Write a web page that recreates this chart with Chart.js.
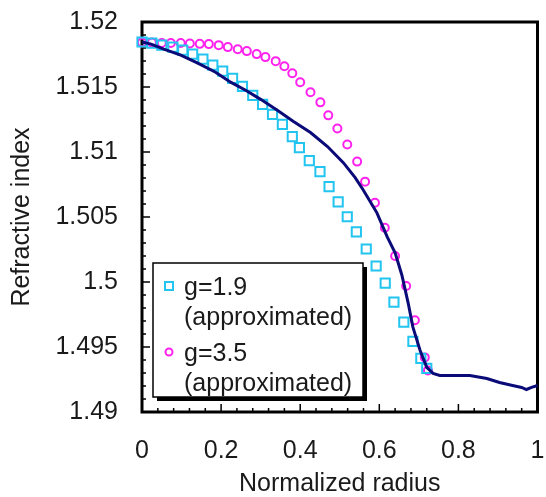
<!DOCTYPE html>
<html>
<head>
<meta charset="utf-8">
<script src="https://cdn.jsdelivr.net/npm/chart.js@4.4.1/dist/chart.umd.min.js"></script>
<style>
  body { margin: 0; background: #fff; }
  #chart { display: block; }
</style>
</head>
<body>
<canvas id="chart" width="546" height="497"></canvas>
<script>
// measured profile (solid navy line)
const radiusMeasured = [0, 0.023, 0.055, 0.098, 0.141, 0.186, 0.224, 0.262, 0.300, 0.343, 0.383, 0.426,
    0.469, 0.509, 0.539, 0.559, 0.594, 0.620, 0.640, 0.657, 0.673, 0.685, 0.703, 0.720, 0.736, 0.753,
    0.829, 0.872, 0.904, 0.937, 0.960, 0.972, 0.985, 1.0];
const indexMeasured = [1.51846, 1.5183, 1.51791, 1.51745, 1.51683, 1.51614, 1.51537, 1.51475, 1.51405,
    1.5132, 1.51235, 1.5115, 1.51042, 1.50918, 1.50803, 1.5071, 1.50532, 1.50347, 1.50224, 1.50054,
    1.49838, 1.49653, 1.49475, 1.49343, 1.49297, 1.49281, 1.49281, 1.49258, 1.49227, 1.49204, 1.49189,
    1.49173, 1.49189, 1.49204];

// g=1.9 (squares)
const radiusG19 = [0, 0.025, 0.05, 0.078, 0.103, 0.128, 0.154, 0.179, 0.204, 0.229, 0.254, 0.280, 0.305,
    0.330, 0.355, 0.380, 0.398, 0.423, 0.450, 0.473, 0.496, 0.519, 0.542, 0.567, 0.592, 0.615, 0.637,
    0.662, 0.685, 0.705, 0.720];
const indexG19 = [1.51846, 1.51838, 1.51822, 1.51807, 1.51784, 1.51753, 1.51714, 1.51668, 1.51622,
    1.51567, 1.51505, 1.51436, 1.51367, 1.51289, 1.51212, 1.51119, 1.51034, 1.50934, 1.50849, 1.50733,
    1.50617, 1.50502, 1.50386, 1.50254, 1.50123, 1.49992, 1.49845, 1.49691, 1.49544, 1.49413, 1.49336];

// g=3.5 (circles)
const radiusG35 = [0, 0.025, 0.05, 0.073, 0.098, 0.121, 0.146, 0.169, 0.194, 0.217, 0.242, 0.265, 0.290,
    0.312, 0.338, 0.360, 0.380, 0.400, 0.426, 0.451, 0.471, 0.494, 0.519, 0.544, 0.564, 0.589, 0.614,
    0.640, 0.668, 0.690, 0.715, 0.723];
const indexG35 = [1.51843, 1.51843, 1.51838, 1.51838, 1.51838, 1.51835, 1.51832, 1.5183, 1.51822,
    1.51807, 1.51791, 1.51776, 1.51753, 1.5173, 1.51699, 1.5166, 1.51606, 1.51537, 1.51459, 1.51382,
    1.51282, 1.51181, 1.51058, 1.50926, 1.50772, 1.5061, 1.50417, 1.502, 1.49969, 1.49706, 1.4942, 1.4932];

const xTicks = [0, 0.2, 0.4, 0.6, 0.8, 1];
const yTicks = [1.49, 1.495, 1.5, 1.505, 1.51, 1.515, 1.52];
const legendLabels = ['g=1.9\n(approximated)', 'g=3.5\n(approximated)'];

const pts = (xs, ys) => xs.map((x, i) => ({ x: x, y: ys[i] }));
const FONT = 'Liberation Sans, Arial, sans-serif';
const TXT = '#1a1a1a';

// frame + inward tick marks
const framePlugin = {
    id: 'frame',
    beforeDatasetsDraw(chart) {
        const { ctx, chartArea: a, scales } = chart;
        ctx.save();
        ctx.strokeStyle = '#000';
        ctx.lineWidth = 1.5;
        ctx.beginPath();
        // y ticks (minor every 0.001)
        for (let i = 0; i <= 30; i++) {
            const y = scales.y.getPixelForValue(1.49 + i * 0.001);
            const len = i % 5 === 0 ? 8 : 4;
            ctx.moveTo(a.left, y); ctx.lineTo(a.left + len, y);
        }
        // x ticks (minor every 0.04)
        for (let i = 0; i <= 25; i++) {
            const x = scales.x.getPixelForValue(i * 0.04);
            const len = i % 5 === 0 ? 8 : 4;
            ctx.moveTo(x, a.bottom); ctx.lineTo(x, a.bottom - len);
        }
        ctx.stroke();
        ctx.lineWidth = 3;
        ctx.strokeRect(a.left, a.top, a.right - a.left, a.bottom - a.top);
        ctx.restore();
    }
};

// boxed legend with shadow, two lines per entry
const legendPlugin = {
    id: 'boxLegend',
    afterDraw(chart) {
        const ctx = chart.ctx;
        const bx = 153, by = 263, bw = 210, bh = 134;
        ctx.save();
        ctx.fillStyle = '#000';
        ctx.fillRect(bx + 4, by + 4, bw, bh);
        ctx.fillStyle = '#fff';
        ctx.fillRect(bx, by, bw, bh);
        ctx.strokeStyle = '#000';
        ctx.lineWidth = 1.5;
        ctx.strokeRect(bx, by, bw, bh);
        ctx.font = '25px ' + FONT;
        ctx.fillStyle = TXT;
        ctx.textBaseline = 'middle';
        const sets = [chart.data.datasets[1], chart.data.datasets[2]];
        sets.forEach((ds, k) => {
            const cy = by + 23 + k * 66;
            ctx.strokeStyle = ds.borderColor;
            ctx.lineWidth = 2;
            if (ds.pointStyle === 'rect') {
                ctx.strokeRect(bx + 12, cy - 4, 8, 8);
            } else {
                ctx.beginPath();
                ctx.arc(bx + 16, cy, 3.5, 0, Math.PI * 2);
                ctx.stroke();
            }
            const lines = legendLabels[k].split('\n');
            ctx.fillStyle = TXT;
            lines.forEach((t, j) => ctx.fillText(t, bx + 31, cy + 2 + j * 30));
        });
        ctx.restore();
    }
};

new Chart(document.getElementById('chart'), {
    type: 'scatter',
    data: {
        datasets: [
            {
                label: 'measured',
                data: pts(radiusMeasured, indexMeasured),
                showLine: true,
                borderColor: '#0a0a78',
                borderWidth: 3,
                pointRadius: 0,
                tension: 0,
                clip: false
            },
            {
                label: legendLabels[0],
                data: pts(radiusG19, indexG19),
                pointStyle: 'rect',
                pointRadius: 6.5,
                borderColor: '#22c4f0',
                backgroundColor: 'rgba(0,0,0,0)',
                borderWidth: 2,
                clip: false
            },
            {
                label: legendLabels[1],
                data: pts(radiusG35, indexG35),
                pointStyle: 'circle',
                pointRadius: 4,
                borderColor: '#ff22ee',
                backgroundColor: 'rgba(0,0,0,0)',
                borderWidth: 2,
                clip: false
            }
        ]
    },
    options: {
        responsive: false,
        animation: false,
        layout: { padding: { top: 22, right: 6, left: 0, bottom: 0 } },
        plugins: { legend: { display: false }, tooltip: { enabled: false } },
        scales: {
            x: {
                type: 'linear', min: 0, max: 1,
                afterBuildTicks: s => { s.ticks = xTicks.map(v => ({ value: v })); },
                afterFit: s => { s.height = 85; s.paddingLeft = 0; s.paddingRight = 0; },
                grid: { display: false, drawTicks: false },
                border: { display: false },
                ticks: { padding: 24, color: TXT, font: { family: FONT, size: 25 },
                    maxRotation: 0, callback: v => String(v) },
                title: { display: true, text: 'Normalized radius', color: TXT,
                    font: { family: FONT, size: 25, lineHeight: 1 }, padding: { top: 0, bottom: 0 } }
            },
            y: {
                type: 'linear', min: 1.49, max: 1.52,
                afterBuildTicks: s => { s.ticks = yTicks.map(v => ({ value: v })); },
                afterFit: s => { s.width = 142; s.paddingTop = 0; s.paddingBottom = 0; },
                grid: { display: false, drawTicks: false },
                border: { display: false },
                ticks: { padding: 24, color: TXT, font: { family: FONT, size: 25 },
                    callback: v => String(v) },
                title: { display: true, text: 'Refractive index', color: TXT,
                    font: { family: FONT, size: 25, lineHeight: 1 }, padding: { top: 10, bottom: 0 } }
            }
        }
    },
    plugins: [framePlugin, legendPlugin]
});
</script>
</body>
</html>
